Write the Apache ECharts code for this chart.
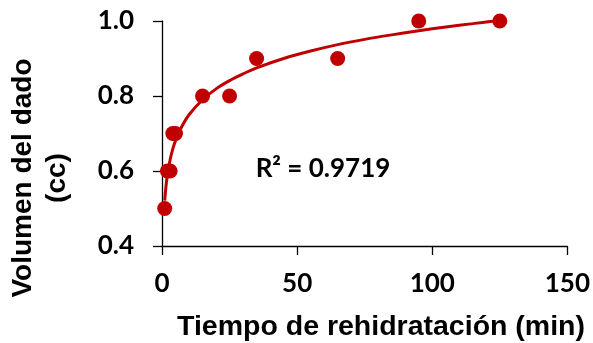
<!DOCTYPE html>
<html>
<head>
<meta charset="utf-8">
<script src="https://cdn.jsdelivr.net/npm/echarts@6/dist/echarts.min.js"></script>
<style>
  html, body { margin: 0; padding: 0; background: #fff; }
  #chart { width: 593px; height: 343px; }
</style>
</head>
<body>
<div id="chart"></div>
<script>
// measured points: rehydration time (min) vs die volume (cc)
const times = [1, 2, 3, 4, 5, 15, 25, 35, 65, 95, 125];
const volumes = [0.5, 0.6, 0.6, 0.7, 0.7, 0.8, 0.8, 0.9, 0.9, 1.0, 1.0];

// log trendline
const trendX = [1, 1.5, 2, 3, 4, 5, 7, 10, 15, 20, 25, 30, 35, 45, 55, 65, 75, 85, 95, 105, 115, 125];
const trendY = [0.521, 0.561, 0.590, 0.630, 0.659, 0.681, 0.714, 0.750, 0.790, 0.819, 0.841, 0.859, 0.875, 0.900, 0.920, 0.937, 0.951, 0.963, 0.974, 0.984, 0.993, 1.002];

const xTicks = [0, 50, 100, 150];
const yTicks = [0.4, 0.6, 0.8, 1.0];
const r2Label = 'R² = 0.9719';
const xTitle = 'Tiempo de rehidratación (min)';
const yTitle = ['Volumen del dado', '(cc)'];

const red = '#C00000';
const tickFont = 'Lato';
const titleFont = '"Liberation Sans"';

const chart = echarts.init(document.getElementById('chart'), null, { renderer: 'canvas' });

const axisCommon = {
  axisLine: { lineStyle: { color: '#000', width: 1.3 } },
  axisTick: { show: true, inside: false, length: 9, lineStyle: { color: '#000', width: 1.3 } },
  splitLine: { show: false },
};

chart.setOption({
  animation: false,
  grid: { left: 162, right: 25, top: 21, bottom: 97, containLabel: false },
  xAxis: {
    ...axisCommon,
    type: 'value',
    min: xTicks[0],
    max: xTicks[xTicks.length - 1],
    interval: xTicks[1] - xTicks[0],
    axisLabel: { color: '#000', fontFamily: tickFont, fontWeight: 'bold', fontSize: 26, margin: 25 },
  },
  yAxis: {
    ...axisCommon,
    type: 'value',
    min: yTicks[0],
    max: yTicks[yTicks.length - 1],
    interval: 0.2,
    axisLabel: {
      color: '#000', fontFamily: tickFont, fontWeight: 'bold', fontSize: 26, margin: 28,
      formatter: (v) => v.toFixed(1),
    },
  },
  graphic: [
    {
      type: 'text',
      x: 40,
      y: 178,
      rotation: Math.PI / 2,
      style: {
        text: yTitle.join('\n'),
        font: 'bold 28px ' + titleFont,
        fill: '#000',
        align: 'center',
        verticalAlign: 'middle',
        lineHeight: 34,
      },
    },
    {
      type: 'text',
      x: 381,
      y: 327,
      style: {
        text: xTitle,
        font: 'bold 28.5px ' + titleFont,
        fill: '#000',
        align: 'center',
        verticalAlign: 'middle',
      },
    },
    {
      type: 'text',
      x: 323,
      y: 169,
      style: {
        text: r2Label,
        font: 'bold 26px ' + tickFont,
        fill: '#000',
        align: 'center',
        verticalAlign: 'middle',
      },
    },
  ],
  series: [
    {
      type: 'line',
      data: trendX.map((x, i) => [x, trendY[i]]),
      smooth: 0.3,
      showSymbol: false,
      lineStyle: { color: red, width: 3 },
      z: 2,
    },
    {
      type: 'scatter',
      data: times.map((t, i) => [t, volumes[i]]),
      symbol: 'circle',
      symbolSize: 15,
      itemStyle: { color: red, opacity: 1 },
      z: 3,
    },
  ],
});
</script>
</body>
</html>
